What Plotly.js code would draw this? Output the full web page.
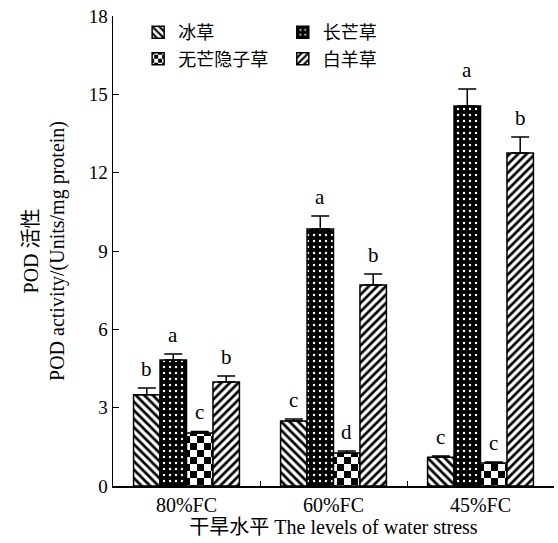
<!DOCTYPE html>
<html><head><meta charset="utf-8">
<script src="https://cdn.plot.ly/plotly-3.0.1.min.js"></script>
<style>html,body{margin:0;padding:0;background:#fff}#c{width:558px;height:543px}</style>
</head><body><div id="c"></div>
<script>
const categories = ["80%FC", "60%FC", "45%FC"];
const seriesNames = ["冰草", "长芒草", "无芒隐子草", "白羊草"];
const vBingcao = [3.49, 2.49, 1.10];
const vChangmang = [4.83, 9.84, 14.55];
const vWumang = [2.03, 1.26, 0.88];
const vBaiyang = [3.98, 7.70, 12.75];
const eBingcao = [0.26, 0.08, 0.05];
const eChangmang = [0.23, 0.50, 0.65];
const eWumang = [0.06, 0.08, 0.04];
const eBaiyang = [0.23, 0.42, 0.62];
const lBingcao = ["b", "c", "c"];
const lChangmang = ["a", "a", "a"];
const lWumang = ["c", "d", "c"];
const lBaiyang = ["b", "b", "b"];

const vals = [vBingcao, vChangmang, vWumang, vBaiyang];
const errs = [eBingcao, eChangmang, eWumang, eBaiyang];
const lets = [lBingcao, lChangmang, lWumang, lBaiyang];
const patterns = [
  {shape: "\\", fgcolor: "#000", bgcolor: "#fff", size: 6, solidity: 0.45, fillmode: "replace"},
  {shape: ".", fgcolor: "#fff", bgcolor: "#000", size: 6, solidity: 0.12, fillmode: "replace"},
  {shape: "+", fgcolor: "#010101", bgcolor: "#fff", size: 14, solidity: 0.5, fillmode: "replace"},
  {shape: "/", fgcolor: "#000", bgcolor: "#fff", size: 6, solidity: 0.45, fillmode: "replace"}
];
const legendOf = ["legend", "legend2", "legend", "legend2"];

const traces = seriesNames.map((n, i) => ({
  type: "bar", name: n, x: categories, y: vals[i],
  legend: legendOf[i],
  marker: {color: i === 1 ? "#000" : "#fff", pattern: patterns[i], line: {color: "#000", width: 1.5}},
  error_y: {type: "data", array: errs[i], visible: true, symmetric: false, color: "#000", thickness: 1.5, width: 9}
}));

const bw = 0.72 / 4;
const annotations = [];
for (let i = 0; i < 4; i++) {
  for (let j = 0; j < 3; j++) {
    annotations.push({
      x: j + (i - 1.5) * bw, y: vals[i][j] + errs[i][j], xref: "x", yref: "y",
      text: lets[i][j], showarrow: false, yanchor: "bottom", yshift: 5,
      font: {family: "Liberation Serif", size: 21, color: "#000"}
    });
  }
}

const legFont = {family: "Noto Sans CJK SC", size: 18, color: "#000"};
const layout = {
  width: 558, height: 543,
  margin: {l: 113, r: 4, t: 16, b: 57},
  paper_bgcolor: "#fff", plot_bgcolor: "#fff",
  barmode: "group", bargap: 0.28, bargroupgap: 0,
  font: {family: "Liberation Serif, Noto Sans CJK SC", color: "#000"},
  showlegend: true,
  legend: {x: 0.057, y: 1.004, xanchor: "left", yanchor: "top", bgcolor: "rgba(0,0,0,0)",
    font: legFont, tracegroupgap: 0, itemwidth: 30},
  legend2: {x: 0.385, y: 1.004, xanchor: "left", yanchor: "top", bgcolor: "rgba(0,0,0,0)",
    font: legFont, tracegroupgap: 0, itemwidth: 30},
  xaxis: {
    type: "category", range: [-0.5, 2.5], showline: true, linecolor: "#000", linewidth: 1.5,
    ticks: "inside", tickson: "boundaries", ticklen: 5, tickcolor: "#000", tickwidth: 1,
    tickfont: {family: "Liberation Serif", size: 20, color: "#000"},
    showgrid: false, zeroline: false,
    title: {text: "干旱水平 The levels of water stress", standoff: 2,
      font: {family: "Liberation Serif, Noto Sans CJK SC", size: 20, color: "#000"}}
  },
  yaxis: {
    range: [0, 18], dtick: 3, tick0: 0, showline: true, linecolor: "#000", linewidth: 1.5,
    ticks: "inside", ticklen: 6, tickcolor: "#000", tickwidth: 1,
    tickfont: {family: "Liberation Serif", size: 19, color: "#000"},
    showgrid: false, zeroline: false,
    title: {text: "POD 活性<br>POD activity/(Units/mg protein)", standoff: 18,
      font: {family: "Liberation Serif, Noto Sans CJK SC", size: 20, color: "#000"}}
  },
  annotations: annotations
};

Plotly.newPlot("c", traces, layout, {staticPlot: true, displayModeBar: false}).then(function () {
  const NS = "http://www.w3.org/2000/svg";
  document.querySelectorAll("pattern").forEach(function (p) {
    const html = p.innerHTML;
    if (html.indexOf("rgb(1, 1, 1)") < 0 && html.indexOf("#010101") < 0) return;
    const w = parseFloat(p.getAttribute("width")) || 14;
    const h = parseFloat(p.getAttribute("height")) || 14;
    while (p.firstChild) p.removeChild(p.firstChild);
    const add = function (x, y, ww, hh, c) {
      const r = document.createElementNS(NS, "rect");
      r.setAttribute("x", x); r.setAttribute("y", y);
      r.setAttribute("width", ww); r.setAttribute("height", hh);
      r.setAttribute("fill", c);
      p.appendChild(r);
    };
    add(0, 0, w, h, "#fff");
    add(0, 0, w / 2, h / 2, "#000");
    add(w / 2, h / 2, w / 2, h / 2, "#000");
  });
});
</script></body></html>
